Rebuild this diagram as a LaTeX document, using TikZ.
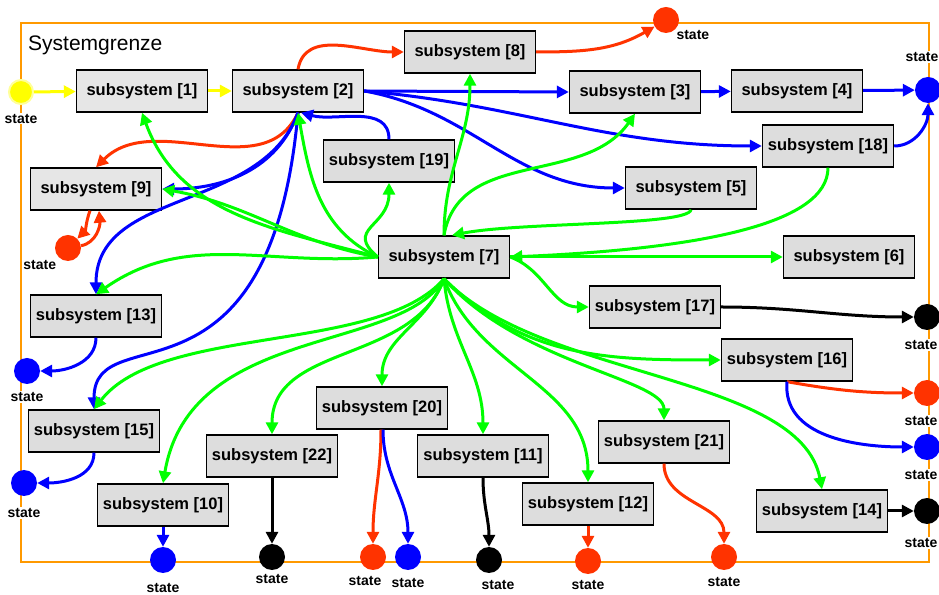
\documentclass[tikz,border=0pt]{standalone}
\usepackage{fontspec}
\setmainfont{Liberation Sans}
\usetikzlibrary{shapes,arrows.meta,positioning}
\definecolor{grau}{RGB}{221,221,221}
\definecolor{rot}{RGB}{255,51,0}
\definecolor{blau}{RGB}{0,0,255}
\definecolor{gruen}{RGB}{0,255,0}
\definecolor{gelb}{RGB}{255,255,0}
\definecolor{grenze}{RGB}{255,153,0}

\begin{document}
\begin{tikzpicture}[x=1pt,y=1pt]
 \tikzset{sub node/.style={rectangle, draw, fill=grau, line width=1.4pt,
 		minimum width=131pt, minimum height=42pt, inner sep=0pt,
 		font=\bfseries\fontsize{16.5}{18}\selectfont}, }
 \tikzset{muster node/.style={sub node, fill=grau!75}, }
 \tikzset{state node/.style={circle, minimum size=26pt, inner sep=0pt}, }
 \tikzset{state text/.style={fill=white, inner sep=1pt,
 		font=\bfseries\fontsize{14}{16}\selectfont}, }
 \tikzset{linea/.style={-{Triangle[length=12pt,width=12pt]}, line width=3pt},}
 \useasboundingbox (0,0) rectangle (939,594);
 \draw[grenze, line width=2.8pt] (21,32) rectangle (929,571);
 \node[anchor=west, inner sep=0pt, font=\fontsize{21}{24}\selectfont] (sg) at (28,549) {Systemgrenze};
 % subsysteme
 \node[muster node] (1) at (142,503) {subsystem [1]};
 \node[muster node] (2) at (298,503) {subsystem [2]};
 \node[sub node] (8) at (470,542) {subsystem [8]};
 \node[sub node] (3) at (635,502) {subsystem [3]};
 \node[sub node] (4) at (797,503) {subsystem [4]};
 \node[sub node] (18) at (828,448) {subsystem [18]};
 \node[sub node] (5) at (691,406) {subsystem [5]};
 \node[sub node] (6) at (849,337) {subsystem [6]};
 \node[sub node] (7) at (444,337) {subsystem [7]};
 \node[sub node] (19) at (389,433) {subsystem [19]};
 \node[muster node] (9) at (96,405) {subsystem [9]};
 \node[sub node] (13) at (96,278) {subsystem [13]};
 \node[sub node] (15) at (94,163) {subsystem [15]};
 \node[sub node] (10) at (163,89) {subsystem [10]};
 \node[sub node] (22) at (272,138) {subsystem [22]};
 \node[sub node] (20) at (382,186) {subsystem [20]};
 \node[sub node] (11) at (483,138) {subsystem [11]};
 \node[sub node] (12) at (588,90) {subsystem [12]};
 \node[sub node] (21) at (664,152) {subsystem [21]};
 \node[sub node] (17) at (655,287) {subsystem [17]};
 \node[sub node] (16) at (787,234) {subsystem [16]};
 \node[sub node] (14) at (822,83) {subsystem [14]};
 % states
 \node[state node, fill=gelb, draw=gelb!40, line width=2pt, minimum size=24pt,
 	label={[state text, label distance=8pt]below:state}] (sy) at (21,502) {};
 \node[state node, fill=rot, label={[state text, label distance=0pt]below right:state}] (s8) at (666,574) {};
 \node[state node, fill=blau, label={[state text, label distance=14pt, xshift=-6pt]above:state}] (s4) at (928,504) {};
 \node[state node, fill=rot, label={[state text, label distance=2pt]below left:state}] (s9) at (68,346) {};
 \node[state node, fill=blau, label={[state text, label distance=7pt]below:state}] (s13) at (27,223) {};
 \node[state node, fill=blau, label={[state text, label distance=11pt]below:state}] (s15) at (24,111) {};
 \node[state node, fill=blau, label={[state text, label distance=9pt]below:state}] (s10) at (163,34) {};
 \node[state node, fill=black, label={[state text, label distance=3pt]below:state}] (s22) at (272,37) {};
 \node[state node, fill=rot, label={[state text, label distance=5pt, xshift=-8pt]below:state}] (s20r) at (373,37) {};
 \node[state node, fill=blau, label={[state text, label distance=7pt]below:state}] (s20b) at (408,37) {};
 \node[state node, fill=black, label={[state text, label distance=6pt, xshift=9pt]below:state}] (s11) at (489,34) {};
 \node[state node, fill=rot, label={[state text, label distance=5pt]below:state}] (s12) at (588,33) {};
 \node[state node, fill=rot, label={[state text, label distance=6pt]below:state}] (s21) at (724,37) {};
 \node[state node, fill=black, label={[state text, label distance=9pt, xshift=-6pt]below:state}] (s17) at (927,277) {};
 \node[state node, fill=rot, label={[state text, label distance=9pt, xshift=-6pt]below:state}] (s16r) at (927,201) {};
 \node[state node, fill=blau, label={[state text, label distance=9pt, xshift=-6pt]below:state}] (s16b) at (927,147) {};
 \node[state node, fill=black, label={[state text, label distance=13pt, xshift=-6pt]below:state}] (s14) at (927,83) {};
 % gelb
 \foreach \x/\y in {sy/1, 1/2}
 \path[linea, gelb] (\x) edge (\y);
 % rot
 \path[linea, rot] (2.north) edge[out=80, in=180] (8.west)
 	(8.east) edge[out=0, in=210] (s8)
 	(2.south) edge[out=245, in=45] (9.north)
 	([xshift=-6pt]9.south) edge[out=250, in=45] (s9)
 	(s9) edge[out=10, in=275] ([xshift=3pt]9.south)
 	([xshift=-1pt]20.south) edge[out=270, in=90] (s20r)
 	(12) edge (s12)
 	(21.south) edge[out=270, in=90] (s21)
 	(16.south) edge[out=-10, in=180] (s16r);
 % blau
 \path[linea, blau] (2.east) edge (3.west)
 	(2.east) edge[out=-5, in=180] (18.west)
 	(2.east) edge[out=-10, in=180] (5.west)
 	(3) edge (4)
 	(4) edge (s4)
 	(18.east) edge[out=0, in=270] (s4)
 	(19.north) edge[out=90, in=-15] ([xshift=3pt]2.south)
 	(2.south) edge[out=250, in=0] (9.east)
 	(2.south) edge[out=250, in=90] (13.north)
 	(13.south) edge[out=270, in=0] (s13)
 	(15.south) edge[out=270, in=0] (s15)
 	(10) edge (s10)
 	([xshift=1pt]20.south) edge[out=270, in=90] (s20b)
 	(16.south) edge[out=265, in=180] (s16b);
 \draw[linea, blau] (2.south) .. controls (270,170) and (94,280) .. (15.north);
 % schwarz
 \path[linea, black] (17.east) edge[out=0, in=180] (s17)
 	(22) edge (s22)
 	(11.south) edge[out=270, in=90] (s11)
 	(14) edge (s14);
 % gruen
 \foreach \x/\y/\aus/\ein in {7.west/1.south/165/290, 7.west/9.east/170/-10,
 	7.west/2.south/155/280, 7.west/13.north/185/35, 7.north/8.south/90/270,
 	7.north/3.south/80/235, 7.east/17.west/-20/180, 7.south/22.north/250/90,
 	7.south/20.north/250/90, 7.south/11.north/275/90, 7.south/12.north/290/90,
 	7.south/16.west/315/180}
 \path[linea, gruen] (\x) edge[out=\aus, in=\ein] (\y);
 \path[linea, gruen] (7) edge (6)
 	(7.west) edge[out=140, in=270, looseness=1.5] (19.south);
 \draw[linea, gruen] (5.south) .. controls (688,368) and (520,372) .. ([xshift=8pt]7.north);
 \draw[linea, gruen] (18.south) .. controls (828,370) and (700,345) .. (7.east);
 \draw[linea, gruen] (7.south) .. controls (380,240) and (160,270) .. (15.north);
 \draw[linea, gruen] (7.south) .. controls (400,240) and (190,270) .. (10.north);
 \draw[linea, gruen] (7.south) .. controls (520,230) and (664,215) .. (21.north);
 \draw[linea, gruen] (7.south) .. controls (540,215) and (800,220) .. (14.north);
 % 
\end{tikzpicture}
\end{document}
